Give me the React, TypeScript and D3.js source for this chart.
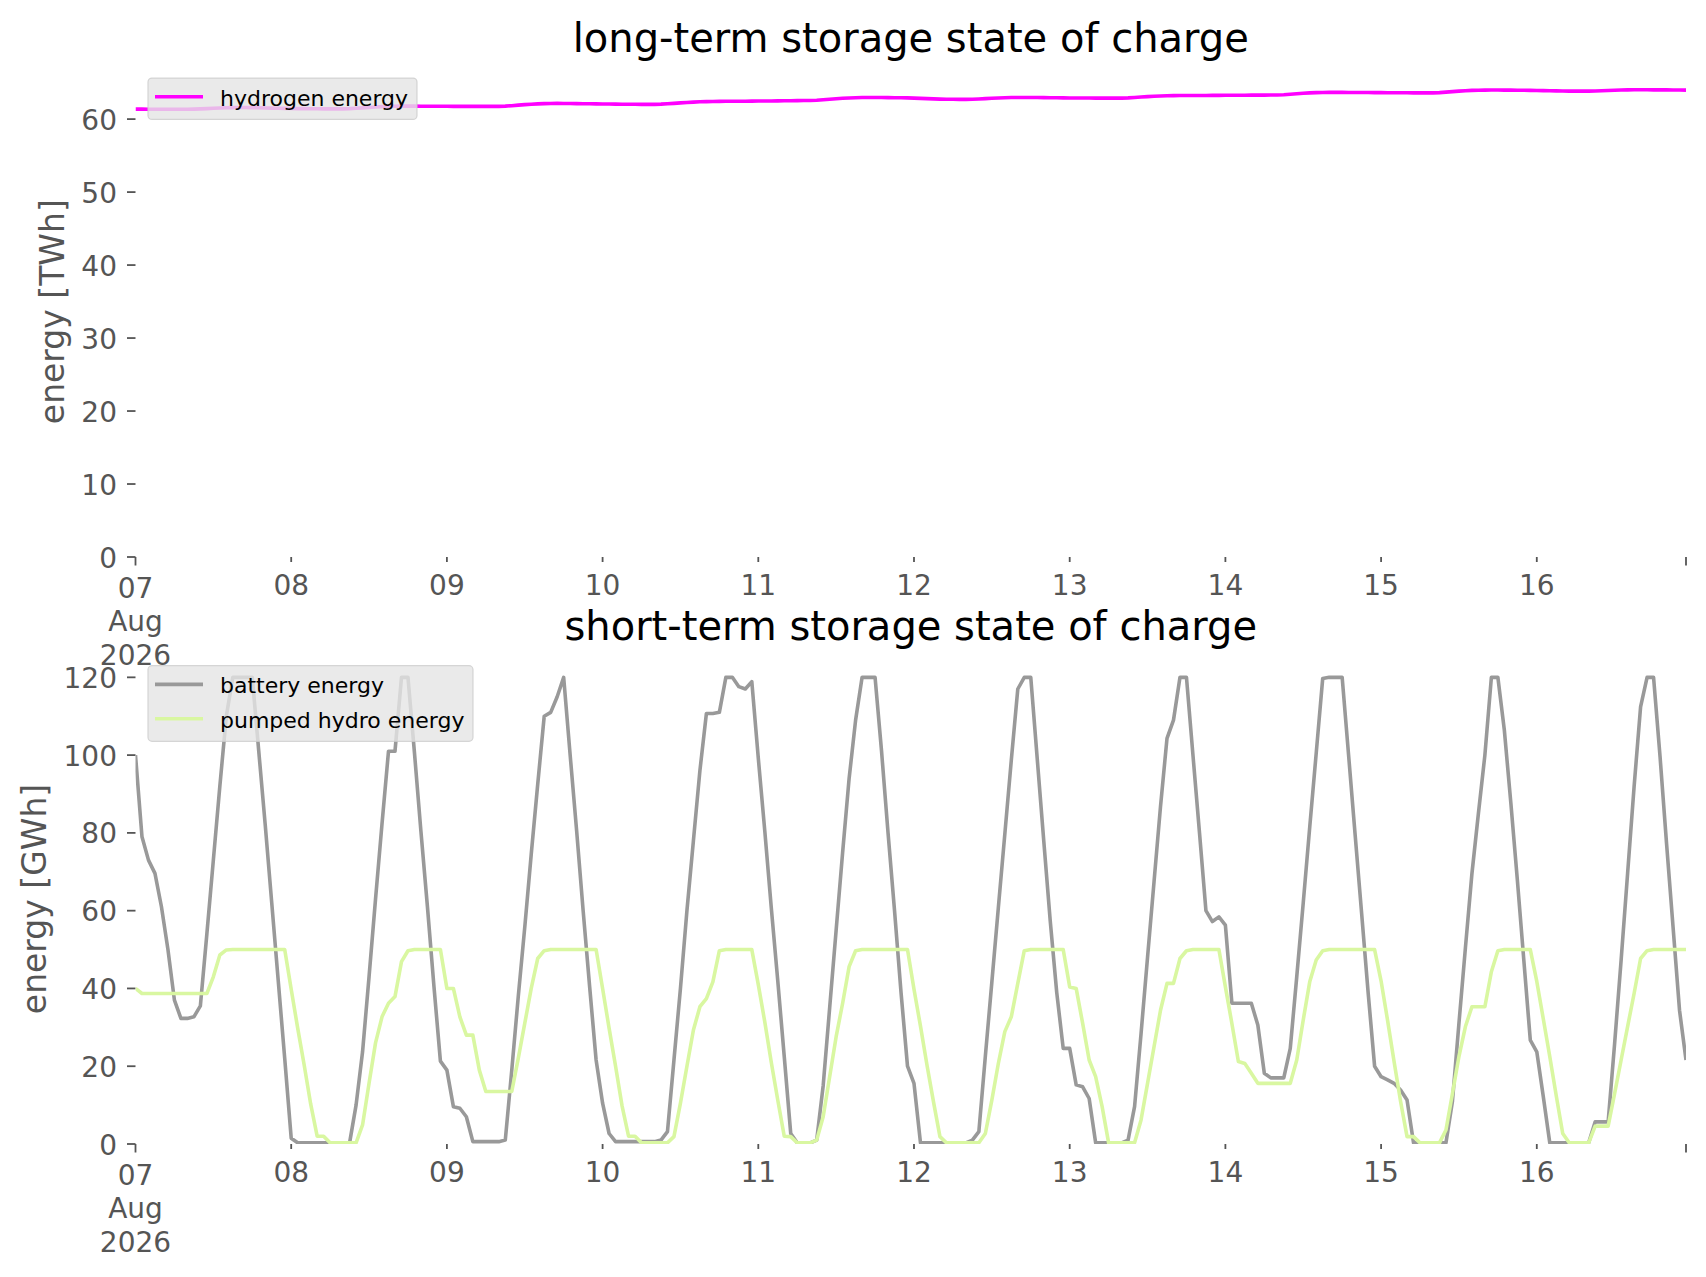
import React from "react";
import * as d3 from "d3";

// ---------- data (hourly, 07 Aug 2026 00:00 .. 16 Aug 2026 23:00) ----------
const startDate = new Date(Date.UTC(2026, 7, 7, 0));
const endDate = new Date(Date.UTC(2026, 7, 17, 0));
const hours: Date[] = d3.utcHour.range(startDate, endDate);

const hydrogenEnergy = [
  61.37, 61.37, 61.36, 61.36, 61.35, 61.35, 61.35, 61.35, 61.35, 61.37, 61.40, 61.44, 61.48, 61.52, 61.55, 61.57, 61.58, 61.58, 61.57, 61.55, 61.53, 61.51, 61.49, 61.47,
  61.45, 61.44, 61.43, 61.42, 61.41, 61.40, 61.40, 61.40, 61.40, 61.43, 61.48, 61.54, 61.60, 61.66, 61.71, 61.75, 61.77, 61.78, 61.78, 61.78, 61.77, 61.77, 61.76, 61.76,
  61.76, 61.75, 61.75, 61.75, 61.75, 61.75, 61.75, 61.75, 61.75, 61.78, 61.84, 61.91, 61.98, 62.04, 62.09, 62.12, 62.14, 62.15, 62.14, 62.13, 62.12, 62.11, 62.10, 62.08,
  62.07, 62.06, 62.05, 62.04, 62.03, 62.03, 62.02, 62.02, 62.02, 62.05, 62.10, 62.16, 62.22, 62.28, 62.33, 62.37, 62.40, 62.42, 62.43, 62.44, 62.44, 62.45, 62.45, 62.46,
  62.47, 62.48, 62.49, 62.50, 62.51, 62.52, 62.53, 62.54, 62.55, 62.59, 62.65, 62.72, 62.79, 62.85, 62.90, 62.93, 62.95, 62.96, 62.96, 62.95, 62.94, 62.93, 62.92, 62.91,
  62.88, 62.84, 62.80, 62.77, 62.74, 62.72, 62.71, 62.70, 62.70, 62.72, 62.76, 62.81, 62.86, 62.90, 62.93, 62.95, 62.97, 62.97, 62.96, 62.95, 62.94, 62.93, 62.92, 62.91,
  62.90, 62.90, 62.89, 62.89, 62.88, 62.88, 62.88, 62.88, 62.88, 62.91, 62.96, 63.02, 63.08, 63.13, 63.17, 63.20, 63.22, 63.23, 63.23, 63.23, 63.24, 63.24, 63.25, 63.25,
  63.26, 63.26, 63.27, 63.27, 63.28, 63.28, 63.29, 63.30, 63.30, 63.34, 63.40, 63.47, 63.54, 63.59, 63.63, 63.65, 63.66, 63.66, 63.66, 63.65, 63.65, 63.64, 63.64, 63.63,
  63.63, 63.62, 63.62, 63.61, 63.61, 63.60, 63.60, 63.60, 63.60, 63.63, 63.69, 63.76, 63.83, 63.89, 63.93, 63.96, 63.97, 63.98, 63.98, 63.97, 63.97, 63.96, 63.95, 63.94,
  63.92, 63.90, 63.88, 63.87, 63.85, 63.84, 63.83, 63.83, 63.83, 63.85, 63.88, 63.92, 63.96, 63.99, 64.01, 64.02, 64.02, 64.02, 64.01, 64.01, 64.00, 63.99, 63.98, 63.97,
];

const batteryEnergy = [
  100, 79, 73, 69.6, 61, 50, 37, 32.3, 32.3, 32.7, 35.5, 54, 73, 92, 110, 120, 120, 120, 120, 101, 82, 62, 42, 22,
  1.5, 0.3, 0.3, 0.3, 0.3, 0.3, 0.3, 0.3, 0.3, 0.3, 10, 23.7, 43, 63, 82.4, 101, 101, 120, 120, 100.6, 80.3, 61, 40.6, 21.3,
  19, 9.6, 9.2, 7, 0.6, 0.6, 0.6, 0.6, 0.6, 1, 19, 37.9, 55.7, 74.5, 92.5, 110, 111, 115, 120, 100, 80.5, 60, 40.5, 21.6,
  10.5, 2.7, 0.6, 0.6, 0.6, 0.6, 0.6, 0.6, 0.6, 1, 3.2, 21.6, 40, 60, 78, 96, 110.7, 110.7, 111, 120, 120, 117.6, 117, 118.9,
  99.2, 80.5, 60.8, 42, 22.5, 2.7, 0.3, 0.3, 0.3, 1, 15, 35, 55, 75, 94, 109, 120, 120, 120, 101, 80, 60, 39, 20,
  15.6, 0.3, 0.3, 0.3, 0.3, 0.3, 0.3, 0.3, 0.3, 1, 3.2, 22.6, 41.6, 60.7, 79.7, 98.7, 117, 120, 120, 99, 78, 57.4, 39, 24.6,
  24.6, 15.2, 14.7, 11.7, 0.3, 0.3, 0.3, 0.3, 0.3, 1, 9.6, 28.4, 48, 67.4, 86.8, 104.3, 109, 120, 120, 100, 80.2, 60, 57.2, 58.4,
  56.3, 36.2, 36.2, 36.2, 36.2, 30.6, 18.2, 17, 17, 17, 24.6, 43, 62, 81.5, 100.5, 119.7, 120, 120, 120, 99.8, 79.5, 59.3, 39, 20,
  17.3, 16.5, 15.6, 13.9, 11.3, 0.3, 0.3, 0.3, 0.3, 0.3, 0.3, 11, 31, 50.5, 69.5, 85, 100, 120, 120, 106.4, 87.7, 68, 47.3, 26.7,
  23.7, 12.2, 0.3, 0.3, 0.3, 0.3, 0.3, 0.3, 0.3, 5.7, 5.7, 5.7, 25.9, 47.3, 69.6, 91.9, 112.4, 120, 120, 99.6, 77.3, 55.9, 34.4, 21.6,
];

const pumpedHydroEnergy = [
  40, 38.7, 38.7, 38.7, 38.7, 38.7, 38.7, 38.7, 38.7, 38.7, 38.7, 38.7, 43, 48.6, 49.9, 50, 50, 50, 50, 50, 50, 50, 50, 50,
  39.8, 29.8, 20.3, 10.3, 2, 2, 0.3, 0.3, 0.3, 0.3, 0.3, 4.9, 15.6, 26, 32.7, 36.2, 37.9, 46.9, 49.7, 50, 50, 50, 50, 50,
  40, 40, 32.7, 28, 28, 19, 13.5, 13.5, 13.5, 13.5, 13.5, 22, 31, 40, 47.7, 49.7, 50, 50, 50, 50, 50, 50, 50, 50,
  40, 29.8, 20, 9.8, 2, 2, 0.3, 0.3, 0.3, 0.3, 0.3, 1.9, 10.5, 20, 29.3, 35.3, 37.4, 41.7, 49.7, 50, 50, 50, 50, 50,
  41, 31.4, 21, 11.3, 2, 1.9, 0.3, 0.3, 0.3, 1, 7, 17.3, 27.6, 36.2, 45.6, 49.7, 50, 50, 50, 50, 50, 50, 50, 50,
  39.8, 30.3, 20.3, 10.9, 1.9, 0.3, 0.3, 0.3, 0.3, 0.3, 0.3, 2.7, 11.3, 20.7, 28.9, 32.7, 41.3, 49.7, 50, 50, 50, 50, 50, 50,
  40.4, 40, 31, 21.6, 17.3, 9.6, 0.3, 0.3, 0.3, 0.3, 0.3, 6.2, 15.6, 25, 34.4, 41.3, 41.3, 47.7, 49.7, 50, 50, 50, 50, 50,
  40.4, 31, 21.2, 20.7, 18.2, 15.6, 15.6, 15.6, 15.6, 15.6, 15.6, 21.6, 31.9, 41.7, 47.3, 49.7, 50, 50, 50, 50, 50, 50, 50, 50,
  41.9, 31.8, 21.2, 11, 1.9, 1.9, 0.3, 0.3, 0.3, 0.3, 3.6, 13, 22.5, 30.2, 35.3, 35.3, 35.3, 44.3, 49.7, 50, 50, 50, 50, 50,
  41.8, 32.2, 22.5, 12.4, 2.7, 0.3, 0.3, 0.3, 0.3, 4.6, 4.6, 4.6, 13, 21.6, 30.2, 38.7, 47.7, 49.7, 50, 50, 50, 50, 50, 50,
];

const topYTicks = [0, 10, 20, 30, 40, 50, 60];
const bottomYTicks = [0, 20, 40, 60, 80, 100, 120];
const dayTicks: Date[] = d3.utcDay.range(startDate, endDate);
const firstTickLabel = ["07", "Aug", "2026"];

const COLORS = { hydrogen: "#ff00ff", battery: "#999999", phs: "#d9f7a1" };

// ---------- layout ----------
const W = 1706;
const H = 1277;
const X_LEFT = 135.5;
const X_RIGHT = 1686;
const FONT = "DejaVu Sans, Liberation Sans, sans-serif";
const TICK_COLOR = "#555555";
const TICK_FS = 28;
const LEGEND_FS = 22;

type Series = { name: string; values: number[]; color: string };

const x = d3.scaleUtc().domain([hours[0], hours[hours.length - 1]]).range([X_LEFT, X_RIGHT]);

function Panel(props: {
  id: string;
  title: string;
  ylabel: string;
  ylabelX: number;
  series: Series[];
  yTicks: number[];
  yTop: number;
  yBottom: number;
  legendWidth: number;
}) {
  const { id, title, ylabel, ylabelX, series, yTicks, yTop, yBottom, legendWidth } = props;
  const maxV = d3.max(series, (s) => d3.max(s.values) as number) as number;
  const y = d3.scaleLinear().domain([0, maxV * 1.05]).range([yBottom, yTop]);
  const line = (vals: number[]) =>
    d3
      .line<number>()
      .x((_, i) => x(hours[i]))
      .y((v) => y(v))(vals) as string;

  const legendX = X_LEFT + 12.5;
  const legendY = yTop + 11.7;
  const rowH = 34.3;
  const legendH = 7 + series.length * rowH;
  const lastTick = hours[hours.length - 1];

  return (
    <g>
      <defs>
        <clipPath id={`clip-${id}`}>
          <rect x={X_LEFT} y={yTop} width={X_RIGHT - X_LEFT} height={yBottom - yTop} />
        </clipPath>
      </defs>
      {/* title */}
      <text
        x={(X_LEFT + X_RIGHT) / 2}
        y={yTop - 14.5}
        textAnchor="middle"
        fontSize={40}
        fontFamily={FONT}
        fill="#000"
      >
        {title}
      </text>
      {/* y label */}
      <text
        transform={`translate(${ylabelX},${(yTop + yBottom) / 2}) rotate(-90)`}
        textAnchor="middle"
        fontSize={33}
        fontFamily={FONT}
        fill={TICK_COLOR}
      >
        {ylabel}
      </text>
      {/* y ticks */}
      {yTicks.map((t) => (
        <g key={`yt${t}`}>
          <line x1={X_LEFT - 8.5} x2={X_LEFT} y1={y(t)} y2={y(t)} stroke={TICK_COLOR} strokeWidth={1.8} />
          <text
            x={X_LEFT - 18.5}
            y={y(t) + 10.5}
            textAnchor="end"
            fontSize={TICK_FS}
            fontFamily={FONT}
            fill={TICK_COLOR}
          >
            {t}
          </text>
        </g>
      ))}
      {/* x ticks */}
      {dayTicks.map((d, i) => {
        const major = i === 0;
        const len = major ? 8.5 : 5;
        const baseY = yBottom + (major ? 41 : 38);
        return (
          <g key={`xt${i}`}>
            <line x1={x(d)} x2={x(d)} y1={yBottom} y2={yBottom + len} stroke={TICK_COLOR} strokeWidth={1.8} />
            {major ? (
              firstTickLabel.map((s, j) => (
                <text
                  key={j}
                  x={x(d)}
                  y={baseY + j * 33.3}
                  textAnchor="middle"
                  fontSize={TICK_FS}
                  fontFamily={FONT}
                  fill={TICK_COLOR}
                >
                  {s}
                </text>
              ))
            ) : (
              <text x={x(d)} y={baseY} textAnchor="middle" fontSize={TICK_FS} fontFamily={FONT} fill={TICK_COLOR}>
                {d3.utcFormat("%d")(d)}
              </text>
            )}
          </g>
        );
      })}
      <line
        x1={x(lastTick)}
        x2={x(lastTick)}
        y1={yBottom}
        y2={yBottom + 8.5}
        stroke={TICK_COLOR}
        strokeWidth={1.8}
      />
      {/* lines */}
      <g clipPath={`url(#clip-${id})`}>
        {series.map((s) => (
          <path
            key={s.name}
            d={line(s.values)}
            fill="none"
            stroke={s.color}
            strokeWidth={3.6}
            strokeLinejoin="round"
          />
        ))}
      </g>
      {/* legend */}
      <rect
        x={legendX}
        y={legendY}
        width={legendWidth}
        height={legendH}
        rx={4}
        ry={4}
        fill="#e5e5e5"
        fillOpacity={0.8}
        stroke="#cccccc"
        strokeOpacity={0.8}
        strokeWidth={1.2}
      />
      {series.map((s, i) => {
        const cy = legendY + 18.7 + i * rowH;
        return (
          <g key={`lg${s.name}`}>
            <line x1={legendX + 7} x2={legendX + 55} y1={cy} y2={cy} stroke={s.color} strokeWidth={3.6} />
            <text x={legendX + 72} y={cy + 9} fontSize={LEGEND_FS} fontFamily={FONT} fill="#000">
              {s.name}
            </text>
          </g>
        );
      })}
    </g>
  );
}

export default function App() {
  return (
    <div style={{ position: "absolute", left: 0, top: 0, background: "#fff" }}>
      <svg width={W} height={H} viewBox={`0 0 ${W} ${H}`} style={{ display: "block" }}>
        <rect x={0} y={0} width={W} height={H} fill="#fff" />
        <Panel
          id="top"
          title="long-term storage state of charge"
          ylabel="energy [TWh]"
          ylabelX={64}
          series={[{ name: "hydrogen energy", values: hydrogenEnergy, color: COLORS.hydrogen }]}
          yTicks={topYTicks}
          yTop={66.4}
          yBottom={557}
          legendWidth={269}
        />
        <Panel
          id="bottom"
          title="short-term storage state of charge"
          ylabel="energy [GWh]"
          ylabelX={46}
          series={[
            { name: "battery energy", values: batteryEnergy, color: COLORS.battery },
            { name: "pumped hydro energy", values: pumpedHydroEnergy, color: COLORS.phs },
          ]}
          yTicks={bottomYTicks}
          yTop={654}
          yBottom={1144}
          legendWidth={325}
        />
      </svg>
    </div>
  );
}
